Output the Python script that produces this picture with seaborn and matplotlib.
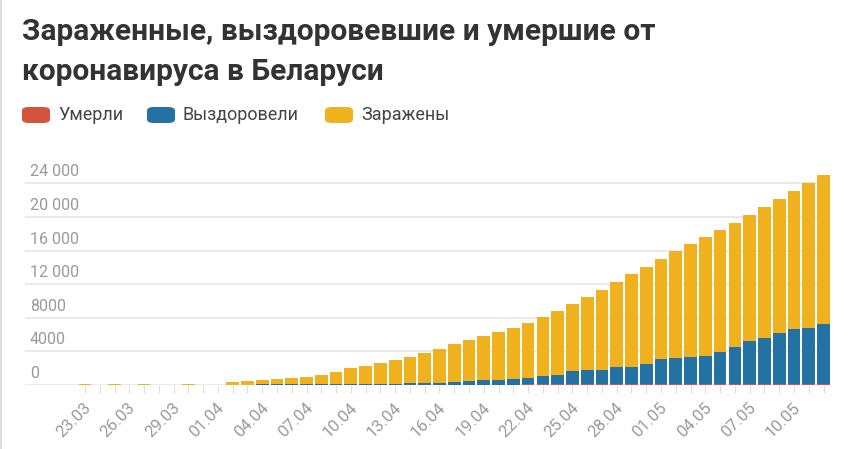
import seaborn as sns
import pandas as pd
import numpy as np
import matplotlib
matplotlib.use("Agg")
from matplotlib import pyplot as plt
from matplotlib.patches import FancyBboxPatch
from matplotlib.lines import Line2D
from matplotlib.transforms import ScaledTranslation

# all days on the axis (23.03 - 12.05)
all_days = pd.date_range("2020-03-23", "2020-05-12").strftime("%d.%m").tolist()

# days that have data
days = ["23.03", "25.03", "27.03", "30.03",
        "02.04", "03.04", "04.04", "05.04", "06.04", "07.04", "08.04", "09.04",
        "10.04", "11.04", "12.04", "13.04", "14.04", "15.04", "16.04", "17.04",
        "18.04", "19.04", "20.04", "21.04", "22.04", "23.04", "24.04", "25.04",
        "26.04", "27.04", "28.04", "29.04", "30.04", "01.05", "02.05", "03.05",
        "04.05", "05.05", "06.05", "07.05", "08.05", "09.05", "10.05", "11.05",
        "12.05"]
deaths = [0, 0, 0, 0,
          4, 5, 8, 13, 13, 13, 16, 19,
          23, 26, 29, 33, 36, 40, 42, 45,
          47, 51, 51, 55, 60, 63, 67, 72,
          75, 79, 84, 89, 93, 99, 103, 107,
          112, 116, 121, 126, 131, 135, 142, 146,
          151]
recovered = [15, 27, 32, 47,
             49, 52, 53, 53, 55, 60, 67, 72,
             110, 120, 130, 140, 150, 160, 190, 280,
             400, 520, 530, 600, 750, 950, 1150, 1590,
             1710, 1750, 2050, 2100, 2380, 2940, 3130, 3210,
             3290, 3850, 4400, 5160, 5510, 6070, 6470, 6590,
             7060]
infected = [61, 59, 62, 105,
            337, 418, 499, 614, 732, 877, 1067, 1489,
            1927, 2144, 2491, 2827, 3174, 3600, 4048, 4545,
            4903, 5289, 5719, 6115, 6520, 7067, 7613, 7958,
            8705, 9491, 10136, 11011, 11607, 11951, 12667, 13463,
            14168, 14474, 14789, 14944, 15539, 15925, 16438, 17264,
            17719]

y_ticks = [0, 4000, 8000, 12000, 16000, 20000, 24000]
y_labels = ["0", "4000", "8000", "12 000", "16 000", "20 000", "24 000"]

labels = ["Умерли", "Выздоровели", "Заражены"]
colors = ["#d4533b", "#2471a3", "#efb11e"]

df = pd.DataFrame({"day": days, "deaths": deaths,
                   "recovered": recovered, "infected": infected})
df["lvl_red"] = df["deaths"]
df["lvl_blue"] = df["deaths"] + df["recovered"]
df["lvl_yellow"] = df["lvl_blue"] + df["infected"]

W, H = 868, 449
fig = plt.figure(figsize=(W / 100, H / 100), dpi=100)
fig.patch.set_facecolor("white")
ax = fig.add_axes([25 / W, 64 / H, 805 / W, 220 / H])

for col, c in [("lvl_yellow", colors[2]), ("lvl_blue", colors[1]), ("lvl_red", colors[0])]:
    sns.barplot(data=df, x="day", y=col, order=all_days, color=c, saturation=1,
                width=0.86, errorbar=None, linewidth=0, ax=ax)

ax.set_xlim(-4.06, 50.44)
ax.set_ylim(0, 26178)
ax.set_xlabel("")
ax.set_ylabel("")
for s in ax.spines.values():
    s.set_visible(False)
ax.set_axisbelow(True)
ax.yaxis.grid(True, color="#e6e6e6", linewidth=1.2)

ax.set_yticks(y_ticks)
ax.set_yticklabels(y_labels)
ax.tick_params(axis="y", length=0, pad=0, labelsize=11.5, labelcolor="#9a9a9a")
yoff = ScaledTranslation(5 / 100, 4 / 100, fig.dpi_scale_trans)
for lab in ax.get_yticklabels():
    lab.set_ha("left")
    lab.set_va("bottom")
    lab.set_fontfamily("Roboto")
    lab.set_transform(lab.get_transform() + yoff)

ax.set_xticks(range(len(all_days)))
ax.set_xticklabels([d if i % 3 == 0 else "" for i, d in enumerate(all_days)],
                   rotation=45, ha="right")
ax.tick_params(axis="x", length=6, width=0.8, color="#dedede", pad=5,
               labelsize=12, labelcolor="#9a9a9a")
xoff = ScaledTranslation(9 / 100, 0, fig.dpi_scale_trans)
for lab in ax.get_xticklabels():
    lab.set_fontfamily("Roboto")
    lab.set_transform(lab.get_transform() + xoff)

# title
title_font = ["Roboto", "DejaVu Sans"]
fig.text(22 / W, 1 - 40 / H, "Зараженные, выздоровевшие и умершие от",
         fontsize=21.5, fontweight="bold", family=title_font,
         color="#333333", va="baseline")
fig.text(22 / W, 1 - 80 / H, "коронавируса в Беларуси",
         fontsize=21.5, fontweight="bold", family=title_font,
         color="#333333", va="baseline")

# legend
box_x = [22, 147, 325]
for bx, lab, c in zip(box_x, labels, colors):
    fig.add_artist(FancyBboxPatch((bx / W, 1 - 123 / H), 28 / W, 16 / H,
                                  boxstyle="round,pad=0,rounding_size=0.008",
                                  transform=fig.transFigure, facecolor=c,
                                  edgecolor="none"))
    fig.text((bx + 36) / W, 1 - 115 / H, lab, fontsize=13, family="Roboto",
             color="#444444", va="center")

fig.add_artist(Line2D([0.5 / W, 0.5 / W], [0, 1], color="#dddddd", lw=1.5,
                      transform=fig.transFigure))

fig.savefig("out.png", dpi=100)
